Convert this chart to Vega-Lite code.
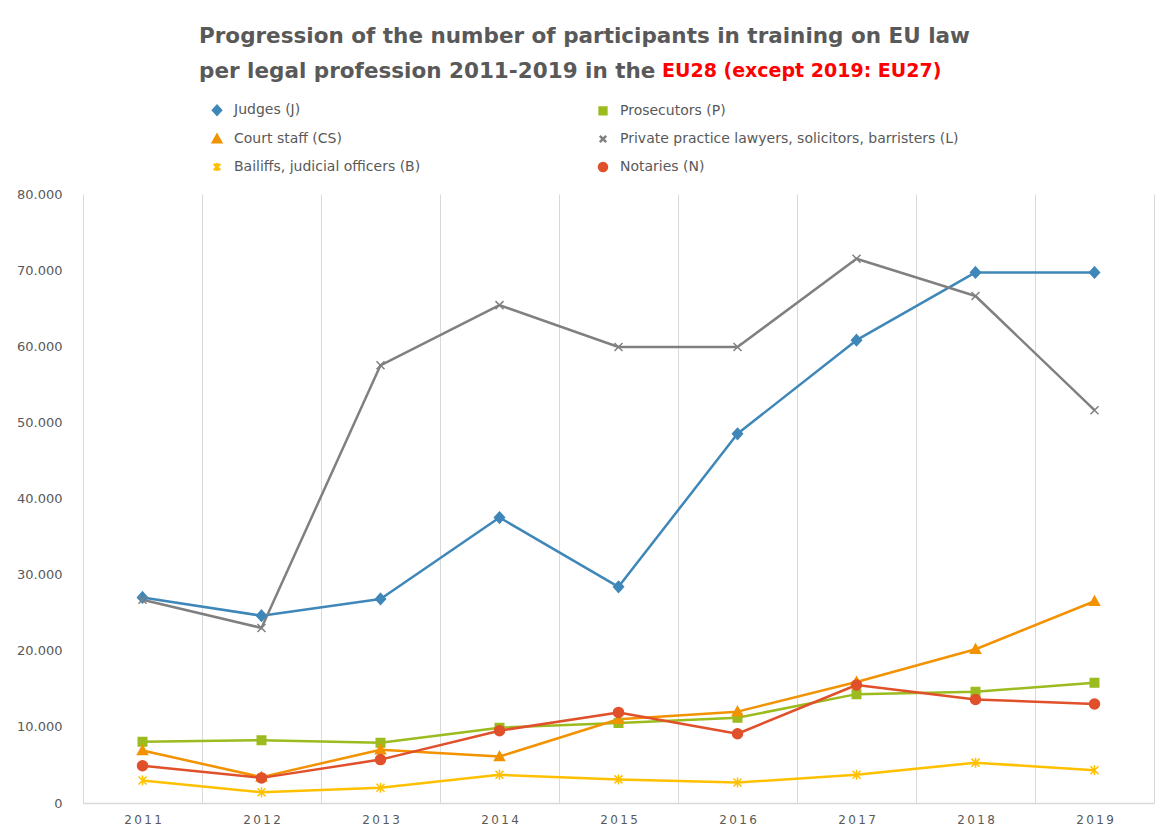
{
  "$schema": "https://vega.github.io/schema/vega-lite/v6.json",
  "width": 1071,
  "height": 609,
  "autosize": {"type": "none"},
  "padding": {"left": 83, "top": 194, "right": 14, "bottom": 31},
  "background": "white",
  "title": {
    "text": ["Progression of the number of participants in training on EU law", "per legal profession 2011-2019 in the"],
    "subtitle": "\u200b\u00a0\u00a0\u00a0\u00a0\u00a0\u00a0\u00a0\u00a0\u00a0\u00a0\u00a0\u00a0\u00a0\u00a0\u00a0\u00a0\u00a0\u00a0\u00a0\u00a0\u00a0\u00a0\u00a0\u00a0\u00a0\u00a0\u00a0\u00a0\u00a0\u00a0\u00a0\u00a0\u00a0\u00a0\u00a0\u00a0\u00a0\u00a0\u00a0\u00a0\u00a0\u00a0\u00a0\u00a0\u00a0\u00a0\u00a0\u00a0\u00a0\u00a0\u00a0\u00a0\u00a0\u00a0\u00a0\u00a0\u00a0\u00a0\u00a0\u00a0\u00a0\u00a0\u00a0\u00a0\u00a0\u00a0\u00a0\u00a0\u00a0\u00a0EU28 (except 2019: EU27)",
    "anchor": "start",
    "frame": "group",
    "dx": 116,
    "offset": 21,
    "font": "DejaVu Sans",
    "fontSize": 21.5,
    "fontWeight": "bold",
    "color": "#595959",
    "lineHeight": 35,
    "subtitleFont": "DejaVu Sans",
    "subtitleFontSize": 19,
    "subtitleFontWeight": "bold",
    "subtitleColor": "#FF0000",
    "subtitlePadding": -20
  },
  "data": {
    "values": [
      {"year": 2011, "profession": "Judges (J)", "value": 27000},
      {"year": 2012, "profession": "Judges (J)", "value": 24600},
      {"year": 2013, "profession": "Judges (J)", "value": 26800},
      {"year": 2014, "profession": "Judges (J)", "value": 37500},
      {"year": 2015, "profession": "Judges (J)", "value": 28400},
      {"year": 2016, "profession": "Judges (J)", "value": 48500},
      {"year": 2017, "profession": "Judges (J)", "value": 60800},
      {"year": 2018, "profession": "Judges (J)", "value": 69700},
      {"year": 2019, "profession": "Judges (J)", "value": 69700},
      {"year": 2011, "profession": "Prosecutors (P)", "value": 8050},
      {"year": 2012, "profession": "Prosecutors (P)", "value": 8250},
      {"year": 2013, "profession": "Prosecutors (P)", "value": 7900},
      {"year": 2014, "profession": "Prosecutors (P)", "value": 9900},
      {"year": 2015, "profession": "Prosecutors (P)", "value": 10500},
      {"year": 2016, "profession": "Prosecutors (P)", "value": 11200},
      {"year": 2017, "profession": "Prosecutors (P)", "value": 14300},
      {"year": 2018, "profession": "Prosecutors (P)", "value": 14600},
      {"year": 2019, "profession": "Prosecutors (P)", "value": 15800},
      {"year": 2011, "profession": "Court staff (CS)", "value": 6900},
      {"year": 2012, "profession": "Court staff (CS)", "value": 3400},
      {"year": 2013, "profession": "Court staff (CS)", "value": 7000},
      {"year": 2014, "profession": "Court staff (CS)", "value": 6100},
      {"year": 2015, "profession": "Court staff (CS)", "value": 11000},
      {"year": 2016, "profession": "Court staff (CS)", "value": 12000},
      {"year": 2017, "profession": "Court staff (CS)", "value": 15900},
      {"year": 2018, "profession": "Court staff (CS)", "value": 20200},
      {"year": 2019, "profession": "Court staff (CS)", "value": 26500},
      {"year": 2011, "profession": "Private practice lawyers, solicitors, barristers (L)", "value": 26700},
      {"year": 2012, "profession": "Private practice lawyers, solicitors, barristers (L)", "value": 23000},
      {"year": 2013, "profession": "Private practice lawyers, solicitors, barristers (L)", "value": 57500},
      {"year": 2014, "profession": "Private practice lawyers, solicitors, barristers (L)", "value": 65400},
      {"year": 2015, "profession": "Private practice lawyers, solicitors, barristers (L)", "value": 59900},
      {"year": 2016, "profession": "Private practice lawyers, solicitors, barristers (L)", "value": 59900},
      {"year": 2017, "profession": "Private practice lawyers, solicitors, barristers (L)", "value": 71500},
      {"year": 2018, "profession": "Private practice lawyers, solicitors, barristers (L)", "value": 66600},
      {"year": 2019, "profession": "Private practice lawyers, solicitors, barristers (L)", "value": 51600},
      {"year": 2011, "profession": "Bailiffs, judicial officers (B)", "value": 2950},
      {"year": 2012, "profession": "Bailiffs, judicial officers (B)", "value": 1400},
      {"year": 2013, "profession": "Bailiffs, judicial officers (B)", "value": 2000},
      {"year": 2014, "profession": "Bailiffs, judicial officers (B)", "value": 3700},
      {"year": 2015, "profession": "Bailiffs, judicial officers (B)", "value": 3100},
      {"year": 2016, "profession": "Bailiffs, judicial officers (B)", "value": 2700},
      {"year": 2017, "profession": "Bailiffs, judicial officers (B)", "value": 3700},
      {"year": 2018, "profession": "Bailiffs, judicial officers (B)", "value": 5300},
      {"year": 2019, "profession": "Bailiffs, judicial officers (B)", "value": 4300},
      {"year": 2011, "profession": "Notaries (N)", "value": 4900},
      {"year": 2012, "profession": "Notaries (N)", "value": 3300},
      {"year": 2013, "profession": "Notaries (N)", "value": 5700},
      {"year": 2014, "profession": "Notaries (N)", "value": 9500},
      {"year": 2015, "profession": "Notaries (N)", "value": 11900},
      {"year": 2016, "profession": "Notaries (N)", "value": 9100},
      {"year": 2017, "profession": "Notaries (N)", "value": 15500},
      {"year": 2018, "profession": "Notaries (N)", "value": 13600},
      {"year": 2019, "profession": "Notaries (N)", "value": 13000}
    ]
  },
  "encoding": {
    "x": {
      "field": "year",
      "type": "ordinal",
      "bandPosition": 0.5,
      "scale": {"type": "band", "paddingInner": 0, "paddingOuter": 0},
      "axis": {
        "title": null,
        "tickBand": "extent",
        "grid": true,
        "gridColor": "#d9d9d9",
        "gridWidth": 1,
        "ticks": false,
        "domain": true,
        "domainColor": "#d9d9d9",
        "domainWidth": 1.5,
        "labelAngle": 0,
        "labelFont": "DejaVu Sans",
        "labelFontSize": 12,
        "labelColor": "#595959",
        "labelPadding": 11,
        "labelExpr": "substring(datum.label,0,1)+'\u2009'+substring(datum.label,1,2)+'\u2009'+substring(datum.label,2,3)+'\u2009'+substring(datum.label,3,4)"
      }
    },
    "y": {
      "field": "value",
      "type": "quantitative",
      "scale": {"domain": [0, 80000]},
      "axis": {
        "title": null,
        "domain": false,
        "ticks": false,
        "grid": false,
        "values": [0, 10000, 20000, 30000, 40000, 50000, 60000, 70000, 80000],
        "labelExpr": "replace(format(datum.value, ','), ',', '.')",
        "labelFont": "DejaVu Sans",
        "labelFontSize": 13,
        "labelColor": "#595959",
        "labelPadding": 21
      }
    },
    "color": {
      "field": "profession",
      "type": "nominal",
      "scale": {
        "domain": ["Judges (J)", "Court staff (CS)", "Bailiffs, judicial officers (B)", "Prosecutors (P)", "Private practice lawyers, solicitors, barristers (L)", "Notaries (N)"],
        "range": ["#3E87B8", "#F39200", "#FFC000", "#9BBB1E", "#808080", "#E0502A"]
      },
      "legend": {
        "title": null,
        "orient": "none",
        "legendX": 127,
        "legendY": -91,
        "columns": 2,
        "columnPadding": 173,
        "rowPadding": 10,
        "labelFont": "DejaVu Sans",
        "labelFontSize": 14,
        "labelColor": "#595959",
        "labelLimit": 600,
        "labelOffset": 10,
        "symbolSize": 64,
        "symbolStrokeWidth": 2.5
      }
    }
  },
  "layer": [
    {
      "mark": {"type": "line", "strokeWidth": 2.5, "strokeJoin": "round"}
    },
    {
      "mark": {"type": "point", "filled": true, "opacity": 1, "strokeWidth": 1.5, "size": 100},
      "encoding": {
        "shape": {
          "field": "profession",
          "type": "nominal",
          "scale": {
            "domain": ["Judges (J)", "Court staff (CS)", "Bailiffs, judicial officers (B)", "Prosecutors (P)", "Private practice lawyers, solicitors, barristers (L)", "Notaries (N)"],
            "range": ["M0,-1.1L1,0L0,1.1L-1,0Z", "M0,-1L1,0.8H-1Z", "M-0.8,-0.8L0.8,0.8M-0.8,0.8L0.8,-0.8M0,-1V1", "M-0.85,-0.85H0.85V0.85H-0.85Z", "M-0.8,-0.8L0.8,0.8M-0.8,0.8L0.8,-0.8", "M1,0A1,1,0,1,1,-1,0A1,1,0,1,1,1,0Z"]
          },
          "legend": null
        },
        "stroke": {
          "field": "profession",
          "type": "nominal",
          "scale": {
            "domain": ["Judges (J)", "Court staff (CS)", "Bailiffs, judicial officers (B)", "Prosecutors (P)", "Private practice lawyers, solicitors, barristers (L)", "Notaries (N)"],
            "range": ["#3E87B8", "#F39200", "#FFC000", "#9BBB1E", "#808080", "#E0502A"]
          },
          "legend": null
        }
      }
    }
  ],
  "config": {
    "view": {"stroke": null}
  }
}
